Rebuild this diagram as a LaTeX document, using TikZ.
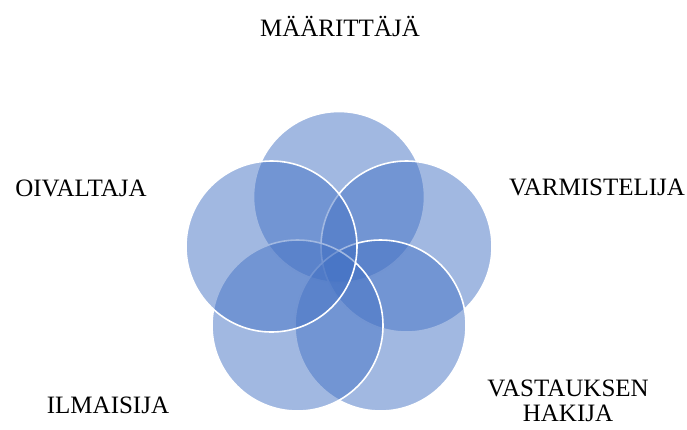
\documentclass[tikz,border=0pt]{standalone}
\usepackage{fontspec}
\setmainfont{Liberation Serif}
\definecolor{petalblue}{HTML}{4472C4}
\tikzset{
  petal/.style={circle, minimum size=171pt, inner sep=0pt, fill=petalblue, fill opacity=0.5, draw=white, draw opacity=1, line width=1.6pt},
  lbl/.style={font=\fontsize{25}{25}\selectfont, text=black, align=center, inner sep=0pt}
}
\begin{document}
\begin{tikzpicture}[x=1pt,y=-1pt]
\useasboundingbox (0,0) rectangle (687,429);
\node[petal] (c1) at (339,197) {};
\node[petal] (c2) at (406.5,246.5) {};
\node[petal] (c3) at (380.5,325.5) {};
\node[petal] (c4) at (297.5,325.5) {};
\node[petal] (c5) at (271.5,246.5) {};
\node[lbl] (t1) at (340,26) {MÄÄRITTÄJÄ};
\node[lbl] (t2) at (597,187) {VARMISTELIJA};
\node[lbl] (t3) at (81,188) {OIVALTAJA};
\node[lbl] (t4) at (108,405) {ILMAISIJA};
\node[lbl] (t5) at (568,401) {VASTAUKSEN\\HAKIJA};
\end{tikzpicture}
\end{document}
